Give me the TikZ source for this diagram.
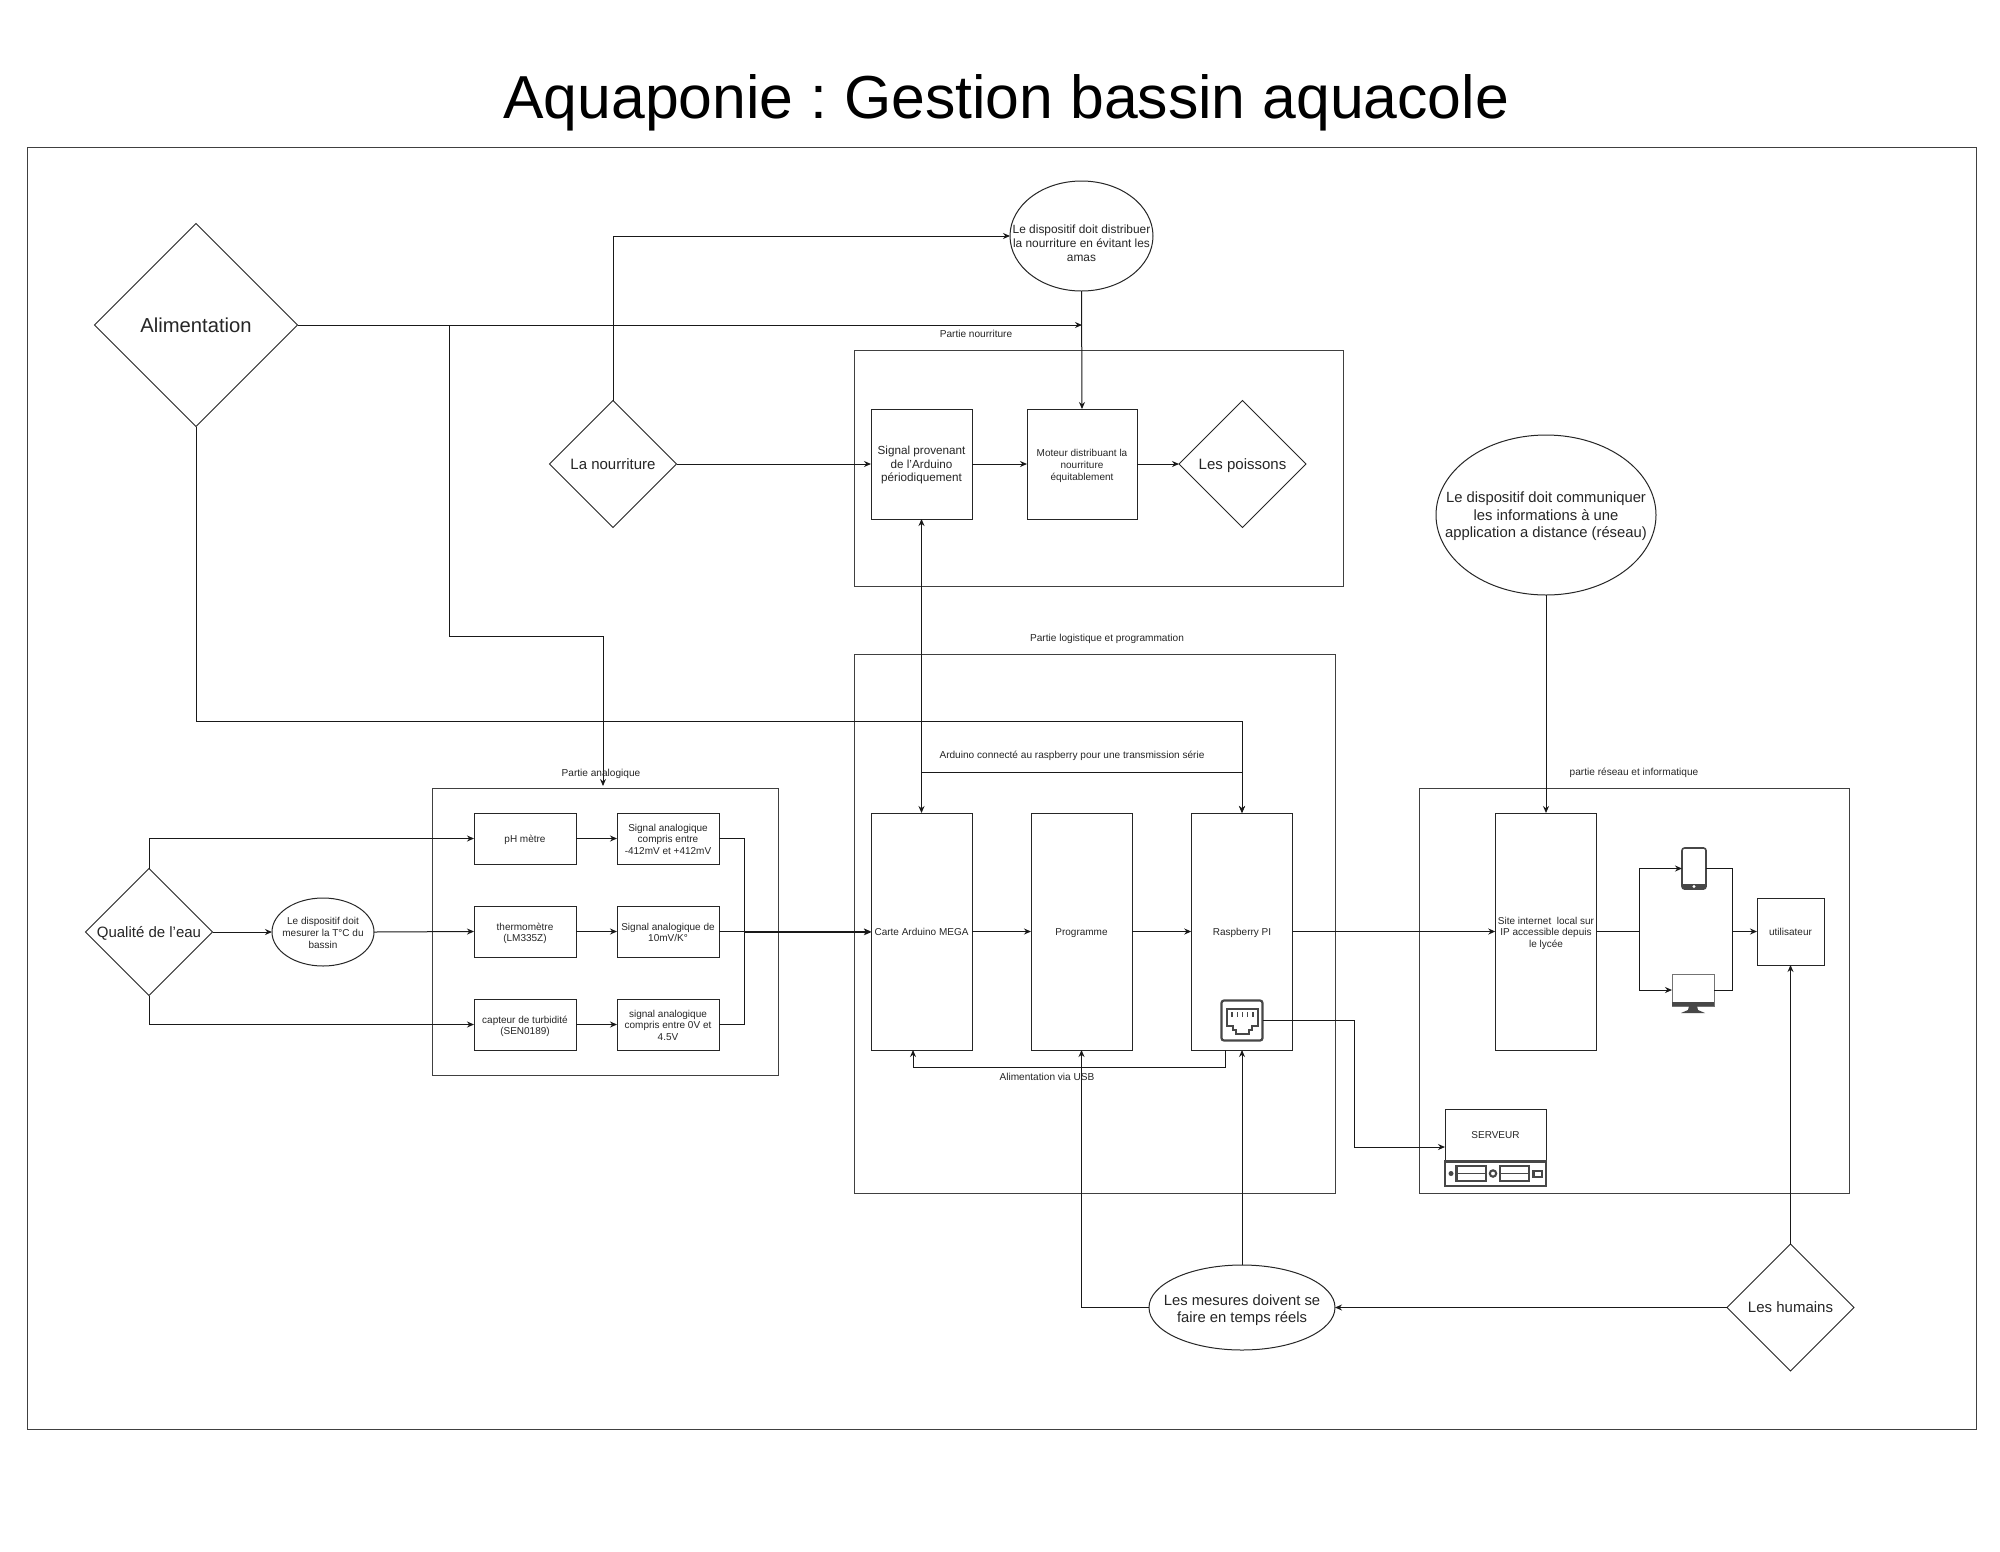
\documentclass[tikz,border=0pt]{standalone}
\usepackage{fontspec}
\setmainfont{Liberation Sans}
\usetikzlibrary{arrows.meta,shapes.geometric}
\newcommand{\sta}{\rule[-.212em]{0pt}{1.117em}}
\newcommand{\stb}{\rule[-.212em]{0pt}{1.317em}}
\newcommand{\st}{\sta}
\tikzset{
  base/.style={inner sep=0pt,outer sep=0pt,align=center,text=black!85},
  fs/.style={font=\fontsize{#1}{1.17\dimexpr #1pt\relax}\selectfont},
  low/.style={execute at begin node={\let\st\stb}},
  frame/.style={draw=black!75,line width=1pt},
  boxn/.style args={#1/#2}{base,low,draw=black!85,line width=0.95pt,rectangle,minimum width=#1pt,minimum height=#2pt,fs=10},
  dia/.style={base,draw=black!85,line width=1pt,diamond,shape aspect=1,minimum width=#1pt,minimum height=#1pt,fs=15},
  elli/.style args={#1/#2}{base,draw=black!85,line width=1pt,ellipse,inner xsep=-60pt,inner ysep=-40pt,minimum width=#1pt,minimum height=#2pt},
  lab/.style={base,fs=10.1},
  arr/.style={draw=black!90,line width=1pt,-{Stealth[length=7pt,width=6pt]}},
  lin/.style={draw=black!90,line width=1pt},
  dbl/.style={draw=black!90,line width=1pt,{Stealth[length=7pt,width=6pt]}-{Stealth[length=7pt,width=6pt]}},
  icon/.style={draw=black!72,line width=2.1pt},
}
\begin{document}
\begin{tikzpicture}[x=1pt,y=-1pt]
\useasboundingbox (0,0) rectangle (2000,1551);
\fill[white] (0,0) rectangle (2000,1551);

\node[base,font=\fontsize{60.7}{70}\selectfont\frenchspacing,text=black] (title) at (1006.3,97) {\sta Aquaponie : Gestion bassin aquacole\sta};
\node[base,frame,rectangle,minimum width=1949pt,minimum height=1282pt] (outer) at (1001.5,788) {};

% group frames
\node[base,frame,rectangle,minimum width=489pt,minimum height=236pt] (gfood) at (1098.5,468) {};
\node[base,frame,rectangle,minimum width=481pt,minimum height=539pt] (glog) at (1094.5,923.5) {};
\node[base,frame,rectangle,minimum width=346pt,minimum height=287pt] (gana) at (605,931.5) {};
\node[base,frame,rectangle,minimum width=430pt,minimum height=405pt] (gnet) at (1634,990.5) {};

% top row
\node[dia=203,fs=20.2] (alim) at (196,325) {\sta Alimentation\sta};
\node[elli=143/110,fs=11.9] (edist) at (1081.5,236) {\sta\\[0pt]Le dispositif doit distribuer\\la nourriture en évitant les\\amas\sta};
\node[dia=127] (nour) at (613,464) {\sta La nourriture\sta};
\node[boxn=101/110,fs=11.7,execute at begin node={\let\st\sta}] (sigard) at (921.5,464) {\st Signal provenant\\de l'Arduino\\périodiquement\sta};
\node[boxn=110/110] (moteur) at (1082,464) {\st Moteur distribuant la\\nourriture\\équitablement\sta};
\node[dia=127] (poiss) at (1242.5,464) {\sta Les poissons\sta};
\node[elli=220/160,fs=14.8] (ereseau) at (1546,515) {\sta Le dispositif doit communiquer\\les informations à une\\application a distance (réseau)\sta};

% analog
\node[dia=127] (qual) at (149,932) {\sta Qualité de l'eau\sta};
\node[elli=102/68,fs=10,low] (etemp) at (323,932) {\st Le dispositif doit\\mesurer la T°C du\\bassin\sta};
\node[boxn=102/51] (ph) at (525,838.5) {\st pH mètre\sta};
\node[boxn=102/51] (thermo) at (525,931.5) {\st thermomètre\\(LM335Z)\sta};
\node[boxn=102/51] (turb) at (525,1024.5) {\st capteur de turbidité\\(SEN0189)\sta};
\node[boxn=102/51] (s1) at (668,838.5) {\st Signal analogique\\compris entre\\-412mV et +412mV\sta};
\node[boxn=102/51] (s2) at (668,931.5) {\st Signal analogique de\\10mV/K°\sta};
\node[boxn=102/51] (s3) at (668,1024.5) {\st signal analogique\\compris entre 0V et\\4.5V\sta};

% logistic
\node[boxn=101/237] (carte) at (921.5,931.5) {\st Carte Arduino MEGA\sta};
\node[boxn=101/237] (prog) at (1081.5,931.5) {\st Programme\sta};
\node[boxn=101.5/237] (rasp) at (1242,931.5) {\st Raspberry PI\sta};
\node[base,draw=black!72,fill=white,line width=2.2pt,rectangle,rounded corners=2.5pt,minimum width=41pt,minimum height=40pt] (rj) at (1242,1020.5) {};
\draw[icon,line width=1.8pt] (1227,1009) -- (1258,1009) -- (1258,1026) -- (1252,1026) -- (1252,1030) -- (1249,1030) -- (1249,1034) -- (1236,1034) -- (1236,1030) -- (1233,1030) -- (1233,1026) -- (1227,1026) -- cycle;
\foreach \px in {1232,1237.2,1242.5,1247.7,1253} \draw[icon,line width=1.1pt] (\px,1012) -- (\px,1017);

\node[elli=186/85,fs=14.8,low] (emes) at (1242,1307.5) {\st Les mesures doivent se\\faire en temps réels\sta};
\node[dia=127] (hum) at (1790.5,1307.5) {\sta Les humains\sta};

% network
\node[boxn=101.5/237] (site) at (1546,931.5) {\st Site internet~ local sur\\IP accessible depuis\\le lycée\sta};
\node[base,draw=black!72,line width=1.6pt,rectangle,rounded corners=2.5pt,minimum width=24pt,minimum height=41pt] (phone) at (1694,868.5) {};
\fill[black!72] (1682,884) rectangle (1706,889);
\fill[white] (1694,886.5) circle (1.6pt);
\node[base,draw=black!55,line width=1pt,rectangle,minimum width=42pt,minimum height=32pt] (mon) at (1693,990) {};
\fill[black!72] (1672,1002) rectangle (1714,1006);
\fill[black!72] (1689,1006) -- (1697,1006) -- (1698,1010) -- (1705,1013) -- (1681,1013) -- (1688,1010) -- cycle;
\node[boxn=67/67] (util) at (1790.5,931.5) {\st utilisateur\sta};
\node[boxn=101/51] (serv) at (1495.5,1134.5) {\st SERVEUR\sta};
\draw[icon,line width=2.4pt] (1445,1161.5) rectangle (1546,1186);
\fill[black!72] (1451,1173.5) circle (2.5pt);
\draw[icon] (1456.5,1166) rectangle (1486,1181);
\draw[icon,line width=1.5pt] (1456.5,1173.5) -- (1486,1173.5);
\draw[icon] (1493,1173.5) circle (3.2pt);
\draw[icon] (1500,1166) rectangle (1529,1181);
\draw[icon,line width=1.5pt] (1500,1173.5) -- (1529,1173.5);
\draw[icon] (1533.5,1171) rectangle (1542,1177);

% labels
\node[lab] (lnour) at (976,334) {\sta Partie nourriture\sta};
\node[lab] (llog) at (1107,638) {\sta Partie logistique et programmation\sta};
\node[lab] (lard) at (1072,755) {\sta Arduino connecté au raspberry pour une transmission série\sta};
\node[lab] (lana) at (601,773) {\sta Partie analogique\sta};
\node[lab] (lnet) at (1634,772) {\sta partie réseau et informatique\sta};
\node[lab] (lusb) at (1047,1077) {\sta Alimentation via USB\sta};

% free ends and bends
\coordinate (a1) at (449,325);
\coordinate (a2) at (449,636.5);
\coordinate (a3) at (603,636.5);
\coordinate (a4) at (603,786);
\coordinate (a5) at (1082,325);
\coordinate (b1) at (196,721);
\coordinate (b2) at (1242,721);
\coordinate (c1) at (922,772);
\coordinate (c2) at (1242,772);
\coordinate (d1) at (744,838.5);
\coordinate (d2) at (744,1024.5);
\coordinate (d3) at (744,932.2);
\coordinate (e1) at (1225,1050);
\coordinate (e2) at (1225,1067);
\coordinate (e3) at (913,1067);
\coordinate (e4) at (913,1050);
\coordinate (f1) at (1354,1020.5);
\coordinate (f2) at (1354,1147);
\coordinate (f3) at (1445,1147);
\coordinate (g1) at (1639,931.5);
\coordinate (g2) at (1732,931.5);

% connectors
\draw[arr] (alim.east) -- (a5);
\draw[arr] (alim.east) -- (a1) -- (a2) -- (a3) -- (a4);
\draw[arr] (alim.south) -- (b1) -- (b2) -- (rasp.north);
\draw[arr] (nour.north) |- (edist.west);
\draw[arr] (nour.east) -- (sigard.west);
\draw[arr] (edist.south) -- (moteur.north);
\draw[arr] (sigard.east) -- (moteur.west);
\draw[arr] (moteur.east) -- (poiss.west);
\draw[dbl] (sigard.south) -- (carte.north);
\draw[arr] (c1) -- (c2) -- (rasp.north);
\draw[arr] (qual.north) |- (ph.west);
\draw[arr] (qual.south) |- (turb.west);
\draw[arr] (qual.east) -- (etemp.west);
\draw[arr] (etemp.east) -- (thermo.west);
\draw[arr] (ph.east) -- (s1.west);
\draw[arr] (thermo.east) -- (s2.west);
\draw[arr] (turb.east) -- (s3.west);
\draw[lin] (s1.east) -- (d1) -- (d2) -- (s3.east);
\draw[arr] (s2.east) -- (carte.west);
\draw[arr] (d3) -- (carte.west |- d3);
\draw[arr] (carte.east) -- (prog.west);
\draw[arr] (prog.east) -- (rasp.west);
\draw[arr] (rasp.east) -- (site.west);
\draw[arr] (ereseau.south) -- (site.north);
\draw[arr] (e1) -- (e2) -- (e3) -- (e4);
\draw[arr] (rj.east) -- (f1) -- (f2) -- (f3);
\draw[arr] (emes.west) -| (prog.south);
\draw[arr] (emes.north) -- (rasp.south);
\draw[arr] (hum.west) -- (emes.east);
\draw[arr] (hum.north) -- (util.south);
\draw[lin] (site.east) -- (g1);
\draw[arr] (g1) |- (phone.west);
\draw[arr] (g1) |- (mon.west);
\draw[lin] (phone.east) -| (g2);
\draw[lin] (mon.east) -| (g2);
\draw[arr] (g2) -- (util.west);
\end{tikzpicture}
\end{document}
